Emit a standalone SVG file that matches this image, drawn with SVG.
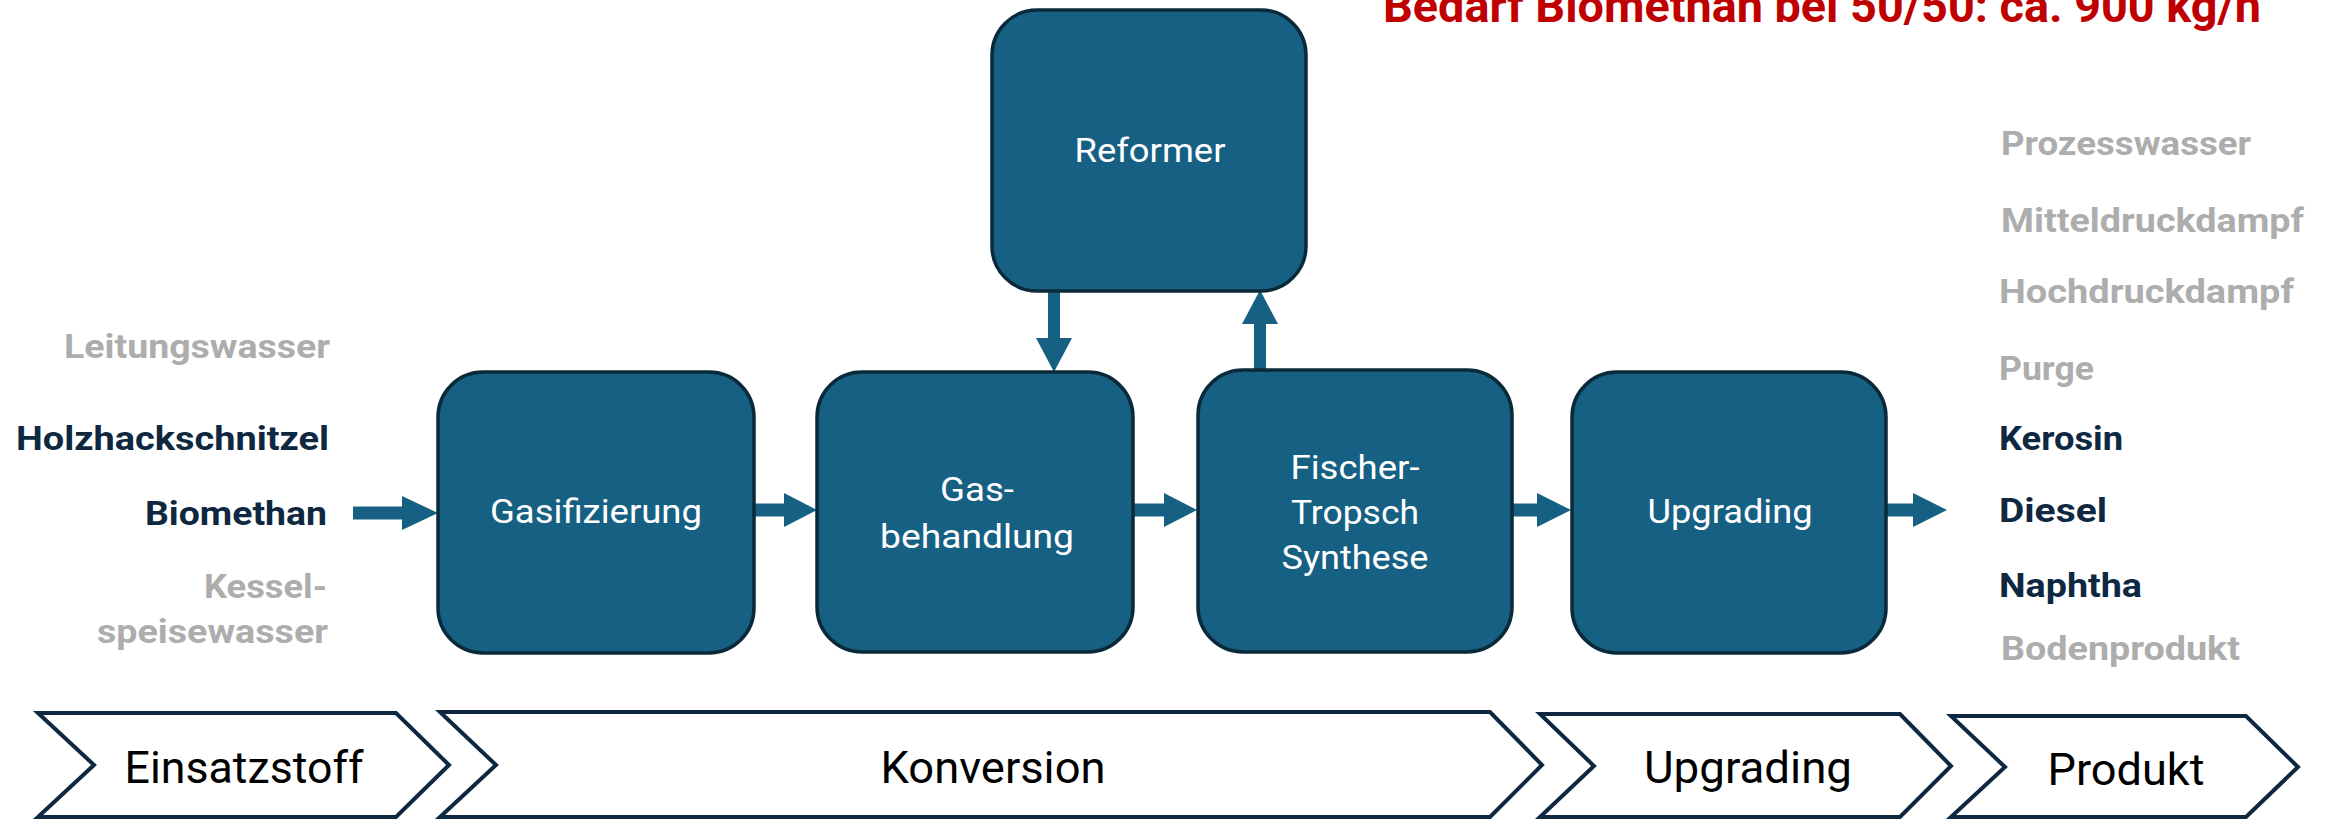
<svg xmlns="http://www.w3.org/2000/svg" width="2330" height="819" viewBox="0 0 2330 819">
<style>
.box{fill:#166083;stroke:#0A2A3A;stroke-width:3.5}
.bt{font-family:Roboto,"Liberation Sans",sans-serif;font-size:33px;fill:#FFFFFF;text-anchor:middle}
.arr{fill:#166083}
.lab{font-family:Roboto,"Liberation Sans",sans-serif;font-size:33px;font-weight:bold}
.dk{fill:#0E2841}
.gy{fill:#ADADAD}
.chev{fill:#FFFFFF;stroke:#0E2841;stroke-width:4;stroke-linejoin:miter}
.ct{font-family:Roboto,"Liberation Sans",sans-serif;font-size:44px;fill:#000000;text-anchor:middle}
.title{font-family:Roboto,"Liberation Sans",sans-serif;font-size:47px;font-weight:bold;fill:#C00000}
</style>
<rect width="2330" height="819" fill="#FFFFFF"/>
<text class="title" x="1383" y="22" textLength="878" lengthAdjust="spacingAndGlyphs">Bedarf Biomethan bei 50/50: ca. 900 kg/h</text>

<g id="connectors">
<polygon class="arr" points="353,506.5 402,506.5 402,496 438,513 402,530 402,519.5 353,519.5"/>
<polygon class="arr" points="754,503.5 784,503.5 784,493 817,510 784,527 784,516.5 754,516.5"/>
<polygon class="arr" points="1133,503.5 1164,503.5 1164,493 1197,510 1164,527 1164,516.5 1133,516.5"/>
<polygon class="arr" points="1512,503.5 1537,503.5 1537,493 1571,510 1537,527 1537,516.5 1512,516.5"/>
<polygon class="arr" points="1886,503.5 1913,503.5 1913,493 1947,510 1913,527 1913,516.5 1886,516.5"/>
<polygon class="arr" points="1048,291 1060,291 1060,338 1072,338 1054,372 1036,338 1048,338"/>
<polygon class="arr" points="1254,370 1266,370 1266,324 1278,324 1260,290 1242,324 1254,324"/>
</g>

<g id="reformer">
<rect class="box" x="992" y="10" width="314" height="281" rx="45" ry="45"/>
<text class="bt" x="1150" y="162" textLength="151" lengthAdjust="spacingAndGlyphs">Reformer</text>
</g>
<g id="gasifizierung">
<rect class="box" x="438" y="372" width="316" height="281" rx="45" ry="45"/>
<text class="bt" x="596" y="523" textLength="212" lengthAdjust="spacingAndGlyphs">Gasifizierung</text>
</g>
<g id="gasbehandlung">
<rect class="box" x="817" y="372" width="316" height="280" rx="45" ry="45"/>
<text class="bt" x="977" y="501" textLength="74" lengthAdjust="spacingAndGlyphs">Gas-</text>
<text class="bt" x="977" y="548" textLength="194" lengthAdjust="spacingAndGlyphs">behandlung</text>
</g>
<g id="fischer-tropsch">
<rect class="box" x="1198" y="370" width="314" height="282" rx="45" ry="45"/>
<text class="bt" x="1355" y="479" textLength="129" lengthAdjust="spacingAndGlyphs">Fischer-</text>
<text class="bt" x="1355" y="524" textLength="128" lengthAdjust="spacingAndGlyphs">Tropsch</text>
<text class="bt" x="1355" y="569" textLength="147" lengthAdjust="spacingAndGlyphs">Synthese</text>
</g>
<g id="upgrading">
<rect class="box" x="1572" y="372" width="314" height="281" rx="45" ry="45"/>
<text class="bt" x="1730" y="523" textLength="165" lengthAdjust="spacingAndGlyphs">Upgrading</text>
</g>

<g id="inputs">
<text class="lab gy" x="330" y="358" text-anchor="end" textLength="266" lengthAdjust="spacingAndGlyphs">Leitungswasser</text>
<text class="lab dk" x="329" y="450" text-anchor="end" textLength="313" lengthAdjust="spacingAndGlyphs">Holzhackschnitzel</text>
<text class="lab dk" x="327" y="525" text-anchor="end" textLength="182" lengthAdjust="spacingAndGlyphs">Biomethan</text>
<text class="lab gy" x="327" y="598" text-anchor="end" textLength="123" lengthAdjust="spacingAndGlyphs">Kessel-</text>
<text class="lab gy" x="328" y="643" text-anchor="end" textLength="231" lengthAdjust="spacingAndGlyphs">speisewasser</text>
</g>

<g id="outputs">
<text class="lab gy" x="2001" y="155" textLength="250" lengthAdjust="spacingAndGlyphs">Prozesswasser</text>
<text class="lab gy" x="2001" y="232" textLength="303" lengthAdjust="spacingAndGlyphs">Mitteldruckdampf</text>
<text class="lab gy" x="1999" y="303" textLength="295" lengthAdjust="spacingAndGlyphs">Hochdruckdampf</text>
<text class="lab gy" x="1999" y="380" textLength="95" lengthAdjust="spacingAndGlyphs">Purge</text>
<text class="lab dk" x="1999" y="450" textLength="124" lengthAdjust="spacingAndGlyphs">Kerosin</text>
<text class="lab dk" x="1999" y="522" textLength="108" lengthAdjust="spacingAndGlyphs">Diesel</text>
<text class="lab dk" x="1999" y="597" textLength="143" lengthAdjust="spacingAndGlyphs">Naphtha</text>
<text class="lab gy" x="2001" y="660" textLength="239" lengthAdjust="spacingAndGlyphs">Bodenprodukt</text>
</g>

<g id="stage-einsatzstoff">
<polygon class="chev" points="38,713 396,713 449,765 396,817 38,817 94,765"/>
<text class="ct" x="244" y="783" textLength="239" lengthAdjust="spacingAndGlyphs">Einsatzstoff</text>
</g>
<g id="stage-konversion">
<polygon class="chev" points="440,712 1490,712 1542,765 1490,817 440,817 496,765"/>
<text class="ct" x="993" y="783" textLength="225" lengthAdjust="spacingAndGlyphs">Konversion</text>
</g>
<g id="stage-upgrading">
<polygon class="chev" points="1540,714 1900,714 1951,766 1900,817 1540,817 1594,766"/>
<text class="ct" x="1748" y="783" textLength="208" lengthAdjust="spacingAndGlyphs">Upgrading</text>
</g>
<g id="stage-produkt">
<polygon class="chev" points="1951,716 2246,716 2298,767 2246,817 1951,817 2005,767"/>
<text class="ct" x="2126" y="785" textLength="157" lengthAdjust="spacingAndGlyphs">Produkt</text>
</g>
</svg>
